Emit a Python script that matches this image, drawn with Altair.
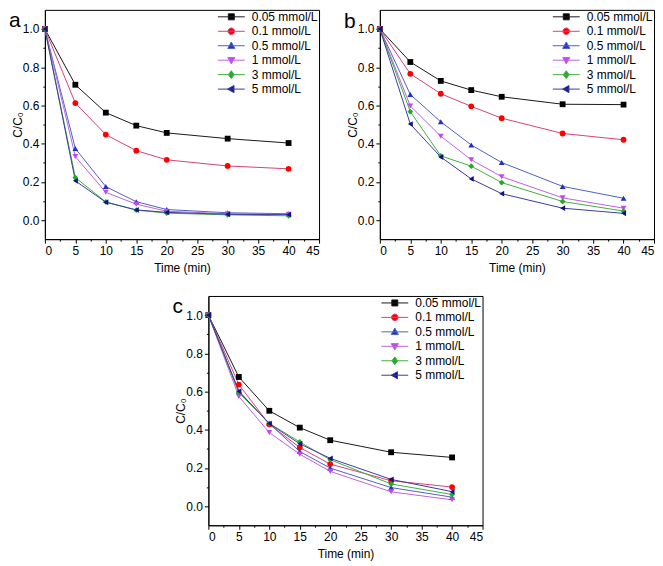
import altair as alt
import pandas as pd

time = [0, 5, 10, 15, 20, 30, 40]
series = ["0.05 mmol/L", "0.1 mmol/L", "0.5 mmol/L", "1 mmol/L", "3 mmol/L", "5 mmol/L"]

# panel a
a_005 = [1.0, 0.708, 0.562, 0.494, 0.456, 0.426, 0.403]
a_01 = [1.0, 0.612, 0.447, 0.363, 0.315, 0.283, 0.268]
a_05 = [1.0, 0.374, 0.175, 0.096, 0.055, 0.038, 0.033]
a_1 = [1.0, 0.332, 0.145, 0.083, 0.046, 0.033, 0.030]
a_3 = [1.0, 0.222, 0.095, 0.052, 0.036, 0.027, 0.022]
a_5 = [1.0, 0.205, 0.093, 0.053, 0.040, 0.030, 0.028]

# panel b
b_005 = [1.0, 0.827, 0.728, 0.680, 0.645, 0.606, 0.604]
b_01 = [1.0, 0.765, 0.661, 0.595, 0.533, 0.453, 0.420]
b_05 = [1.0, 0.657, 0.514, 0.393, 0.301, 0.176, 0.114]
b_1 = [1.0, 0.597, 0.439, 0.315, 0.227, 0.116, 0.062]
b_3 = [1.0, 0.567, 0.336, 0.282, 0.196, 0.097, 0.047]
b_5 = [1.0, 0.502, 0.330, 0.215, 0.138, 0.062, 0.035]

# panel c
c_005 = [1.0, 0.676, 0.499, 0.411, 0.345, 0.282, 0.255]
c_01 = [1.0, 0.636, 0.428, 0.307, 0.220, 0.133, 0.100]
c_05 = [1.0, 0.601, 0.432, 0.286, 0.199, 0.097, 0.047]
c_1 = [1.0, 0.574, 0.385, 0.272, 0.182, 0.075, 0.033]
c_3 = [1.0, 0.593, 0.433, 0.336, 0.243, 0.116, 0.061]
c_5 = [1.0, 0.601, 0.432, 0.326, 0.250, 0.140, 0.076]

marker_colors = ["#000000", "#ff0000", "#2030c8", "#c048f0", "#22aa22", "#10108a"]
line_colors = ["#1a1a1a", "#d8407f", "#5060c4", "#c060e8", "#40b040", "#3c3ca0"]
marker_shapes = ["square", "circle", "triangle-up", "triangle-down", "diamond", "triangle-left"]
legend_shapes = [
    "M-4.5,0H4.5M-1,-1H1V1H-1Z",
    "M-4.5,0H4.5M-1.1,0A1.1,1.1 0 1,0 1.1,0A1.1,1.1 0 1,0 -1.1,0Z",
    "M-4.5,0H4.5M0,-1.25L1.2,0.9H-1.2Z",
    "M-4.5,0H4.5M0,1.25L1.2,-0.9H-1.2Z",
    "M-4.5,0H4.5M0,-1.3L1,0L0,1.3L-1,0Z",
    "M-4.5,0H4.5M-1.25,0L0.9,-1.2V1.2Z",
]

x_major = [0, 5, 10, 15, 20, 25, 30, 35, 40, 45]
x_minor = [2.5, 7.5, 12.5, 17.5, 22.5, 27.5, 32.5, 37.5, 42.5]
y_major = [0.0, 0.2, 0.4, 0.6, 0.8, 1.0]
y_minor = [0.1, 0.3, 0.5, 0.7, 0.9]

FONT = "Liberation Sans"


def make_df(cols):
    rows = []
    for s, vals in zip(series, cols):
        for t, v in zip(time, vals):
            rows.append({"time": t, "value": v, "series": s})
    return pd.DataFrame(rows)


def panel(cols, letter, letter_dy):
    df = make_df(cols)
    base = alt.Chart(df)
    xs = alt.Scale(domain=[0, 45], nice=False)
    ys = alt.Scale(domain=[-0.1, 1.1], nice=False, zero=False)
    lines = base.mark_line(strokeWidth=1).encode(
        x=alt.X("time:Q", scale=xs, axis=alt.Axis(values=x_major, title="Time (min)", tickSize=4, orient="bottom",
                                                   labelPadding=2, titlePadding=6, grid=False)),
        y=alt.Y("value:Q", scale=ys, axis=alt.Axis(values=y_major, format=".1f", title="C/C\u2080", orient="left",
                                                    tickSize=4, labelPadding=2, titlePadding=-2, grid=False)),
        color=alt.Color("series:N", scale=alt.Scale(domain=series, range=line_colors), legend=None),
    )
    points = base.mark_point(filled=True, size=34, opacity=1).encode(
        x=alt.X("time:Q", scale=xs, axis=alt.Axis(values=x_minor, labels=False, domain=False, orient="bottom",
                                                   tickSize=2, title="", grid=False)),
        y=alt.Y("value:Q", scale=ys, axis=alt.Axis(values=y_minor, labels=False, domain=False, orient="left",
                                                    tickSize=2, title="", grid=False)),
        color=alt.Color("series:N", scale=alt.Scale(domain=series, range=marker_colors), legend=None),
        shape=alt.Shape("series:N", scale=alt.Scale(domain=series, range=marker_shapes), legend=None),
    )
    leg = alt.Legend(orient="top-right", offset=1, padding=0, rowPadding=2.5, labelFont=FONT,
                     labelFontSize=12, labelColor="black", labelOffset=14.5, symbolSize=36,
                     symbolStrokeWidth=1, symbolOpacity=1)
    legend_layer = base.transform_filter("datum.time < -1").mark_point(filled=True).encode(
        color=alt.Color("series:N", scale=alt.Scale(domain=series, range=marker_colors), legend=leg, title=None),
        stroke=alt.Stroke("series:N", scale=alt.Scale(domain=series, range=line_colors), legend=leg, title=None),
        shape=alt.Shape("series:N", scale=alt.Scale(domain=series, range=legend_shapes), legend=leg, title=None),
    )
    label = alt.Chart(pd.DataFrame({"t": [letter]})).mark_text(
        font=FONT, fontSize=21, align="left", baseline="alphabetic", color="black"
    ).encode(text="t:N", x=alt.value(-36), y=alt.value(letter_dy))
    return alt.layer(lines, points, legend_layer, label).resolve_scale(
        color="independent", shape="independent", stroke="independent"
    ).resolve_axis(x="independent", y="independent").properties(width=275, height=230)


pa = panel([a_005, a_01, a_05, a_1, a_3, a_5], "a", 17)
pb = panel([b_005, b_01, b_05, b_1, b_3, b_5], "b", 18)
pc = panel([c_005, c_01, c_05, c_1, c_3, c_5], "c", 17)

spacer = alt.Chart(pd.DataFrame({"v": [0]})).mark_point(opacity=0).properties(
    width=126, height=10, view=alt.ViewBackground(stroke="transparent")
)

chart = alt.vconcat(
    alt.hconcat(pa, pb, spacing=23),
    alt.hconcat(spacer, pc, spacing=0),
    spacing=21,
).properties(
    padding=0
).configure_view(
    stroke="black", strokeWidth=1
).configure_axis(
    labelFont=FONT, labelFontSize=12, labelColor="black", titleFont=FONT, titleFontSize=12,
    titleFontWeight="normal", titleColor="black", domainColor="black", tickColor="black",
    domainWidth=1, tickWidth=1
)

chart.save("out.html", embed_options={"renderer": "svg", "actions": False})
